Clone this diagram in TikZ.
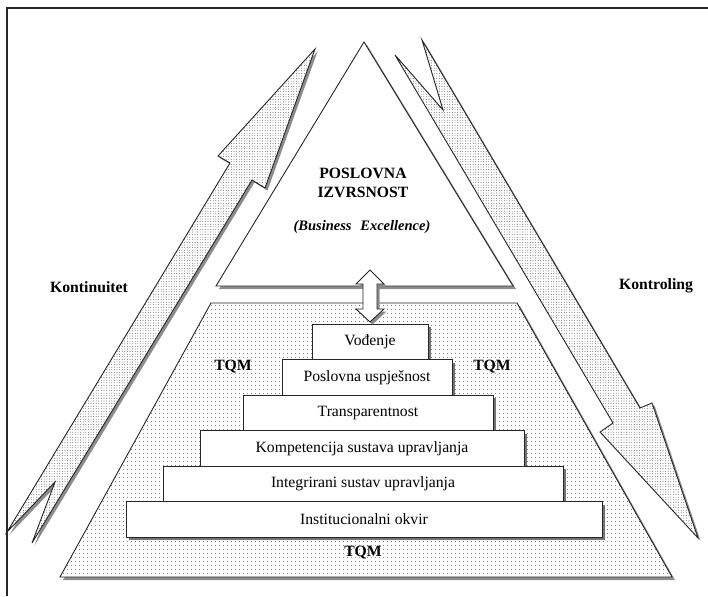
\documentclass[tikz,border=0pt]{standalone}
\usepackage{fontspec}
\setmainfont{Liberation Serif}
\usetikzlibrary{patterns.meta,shadows}
\begin{document}
\begin{tikzpicture}[x=1pt,y=-1pt,
  outline/.style={draw=black!85, line width=0.9pt, line join=miter},
  shade/.style={fill=black!45, draw=none},
  arrowdots/.style={preaction={fill=white}, pattern={Dots[radius=0.42pt,distance=2.6pt]}, pattern color=black!75},
  basedots/.style={preaction={fill=white}, pattern={Dots[radius=0.5pt,distance=4pt]}, pattern color=black!80},
  stepbox/.style={outline, fill=white, inner sep=0pt, minimum height=35.5pt,
    font=\fontsize{15.7}{18}\selectfont,
    drop shadow={shadow xshift=3pt, shadow yshift=-3pt, fill=black!55, opacity=1}},
  boldlabel/.style={font=\fontsize{15.7}{18}\selectfont\bfseries, inner sep=0pt}
]
\useasboundingbox (0,0) rectangle (708,596);

% frame
\draw[line width=1.4pt, black!85] (7,596) -- (7,8) -- (708,8);

% rising arrow (Kontinuitet)
\def\leftarrowpath{(315,49) -- (265,188) -- (252,180) -- (32,543) -- (55,482) -- (7,532) -- (230,163) -- (218,156) -- cycle}
\fill[shade, shift={(2.5,2.5)}] (315,49) -- (265,188) -- (252,180) -- (32,543) -- (55,482) -- (7,532) -- (230,163) -- (218,156) -- cycle;
\path[outline, arrowdots] (315,49) -- (265,188) -- (252,180) -- (32,543) -- (55,482) -- (7,532) -- (230,163) -- (218,156) -- cycle;

% falling arrow (Kontroling)
\fill[shade, shift={(2.5,2.5)}] (395,55) -- (443,110) -- (422,40) -- (640,408) -- (652,403) -- (698,538) -- (600,432) -- (613,423) -- cycle;
\path[outline, arrowdots] (395,55) -- (443,110) -- (422,40) -- (640,408) -- (652,403) -- (698,538) -- (600,432) -- (613,423) -- cycle;

% top triangle
\fill[shade, shift={(3,3)}] (364,42) -- (513,286) -- (216,286) -- cycle;
\path[outline, fill=white] (364,42) -- (513,286) -- (216,286) -- cycle;

% base trapezoid
\fill[shade, shift={(3,3)}] (211,303) -- (517,303) -- (672,577) -- (60,577) -- cycle;
\path[outline, basedots] (211,303) -- (517,303) -- (672,577) -- (60,577) -- cycle;

% steps
\node[stepbox, minimum width=116pt] (s1) at (370,341.75) {Vođenje};
\node[stepbox, minimum width=170pt] (s2) at (367,377.25) {Poslovna uspješnost};
\node[stepbox, minimum width=250pt] (s3) at (368,412.75) {Transparentnost};
\node[stepbox, minimum width=324pt] (s4) at (362,448.25) {Kompetencija sustava upravljanja};
\node[stepbox, minimum width=400pt] (s5) at (363,483.75) {Integrirani sustav upravljanja};
\node[stepbox, minimum width=476pt] (s6) at (364,519.25) {Institucionalni okvir};

% double arrow between apex and base
\fill[shade, shift={(2.5,2.5)}] (370,270) -- (384,284) -- (377,284) -- (377,309) -- (384,309) -- (370,322) -- (356,309) -- (363,309) -- (363,284) -- (356,284) -- cycle;
\path[outline, fill=white] (370,270) -- (384,284) -- (377,284) -- (377,309) -- (384,309) -- (370,322) -- (356,309) -- (363,309) -- (363,284) -- (356,284) -- cycle;

% texts
\node[boldlabel, align=center] (pi) at (363,183) {POSLOVNA\\[1pt]IZVRSNOST};
\node[font=\fontsize{14.5}{17}\selectfont\bfseries\itshape, inner sep=0pt] (be) at (362,227) {(Business\hspace{0.6em}Excellence)};
\node[boldlabel] (kt) at (89,287) {Kontinuitet};
\node[boldlabel] (kr) at (656,286) {Kontroling};
\node[boldlabel] (t1) at (233,367) {TQM};
\node[boldlabel] (t2) at (492,367) {TQM};
\node[boldlabel] (t3) at (363,553) {TQM};
\end{tikzpicture}
\end{document}
